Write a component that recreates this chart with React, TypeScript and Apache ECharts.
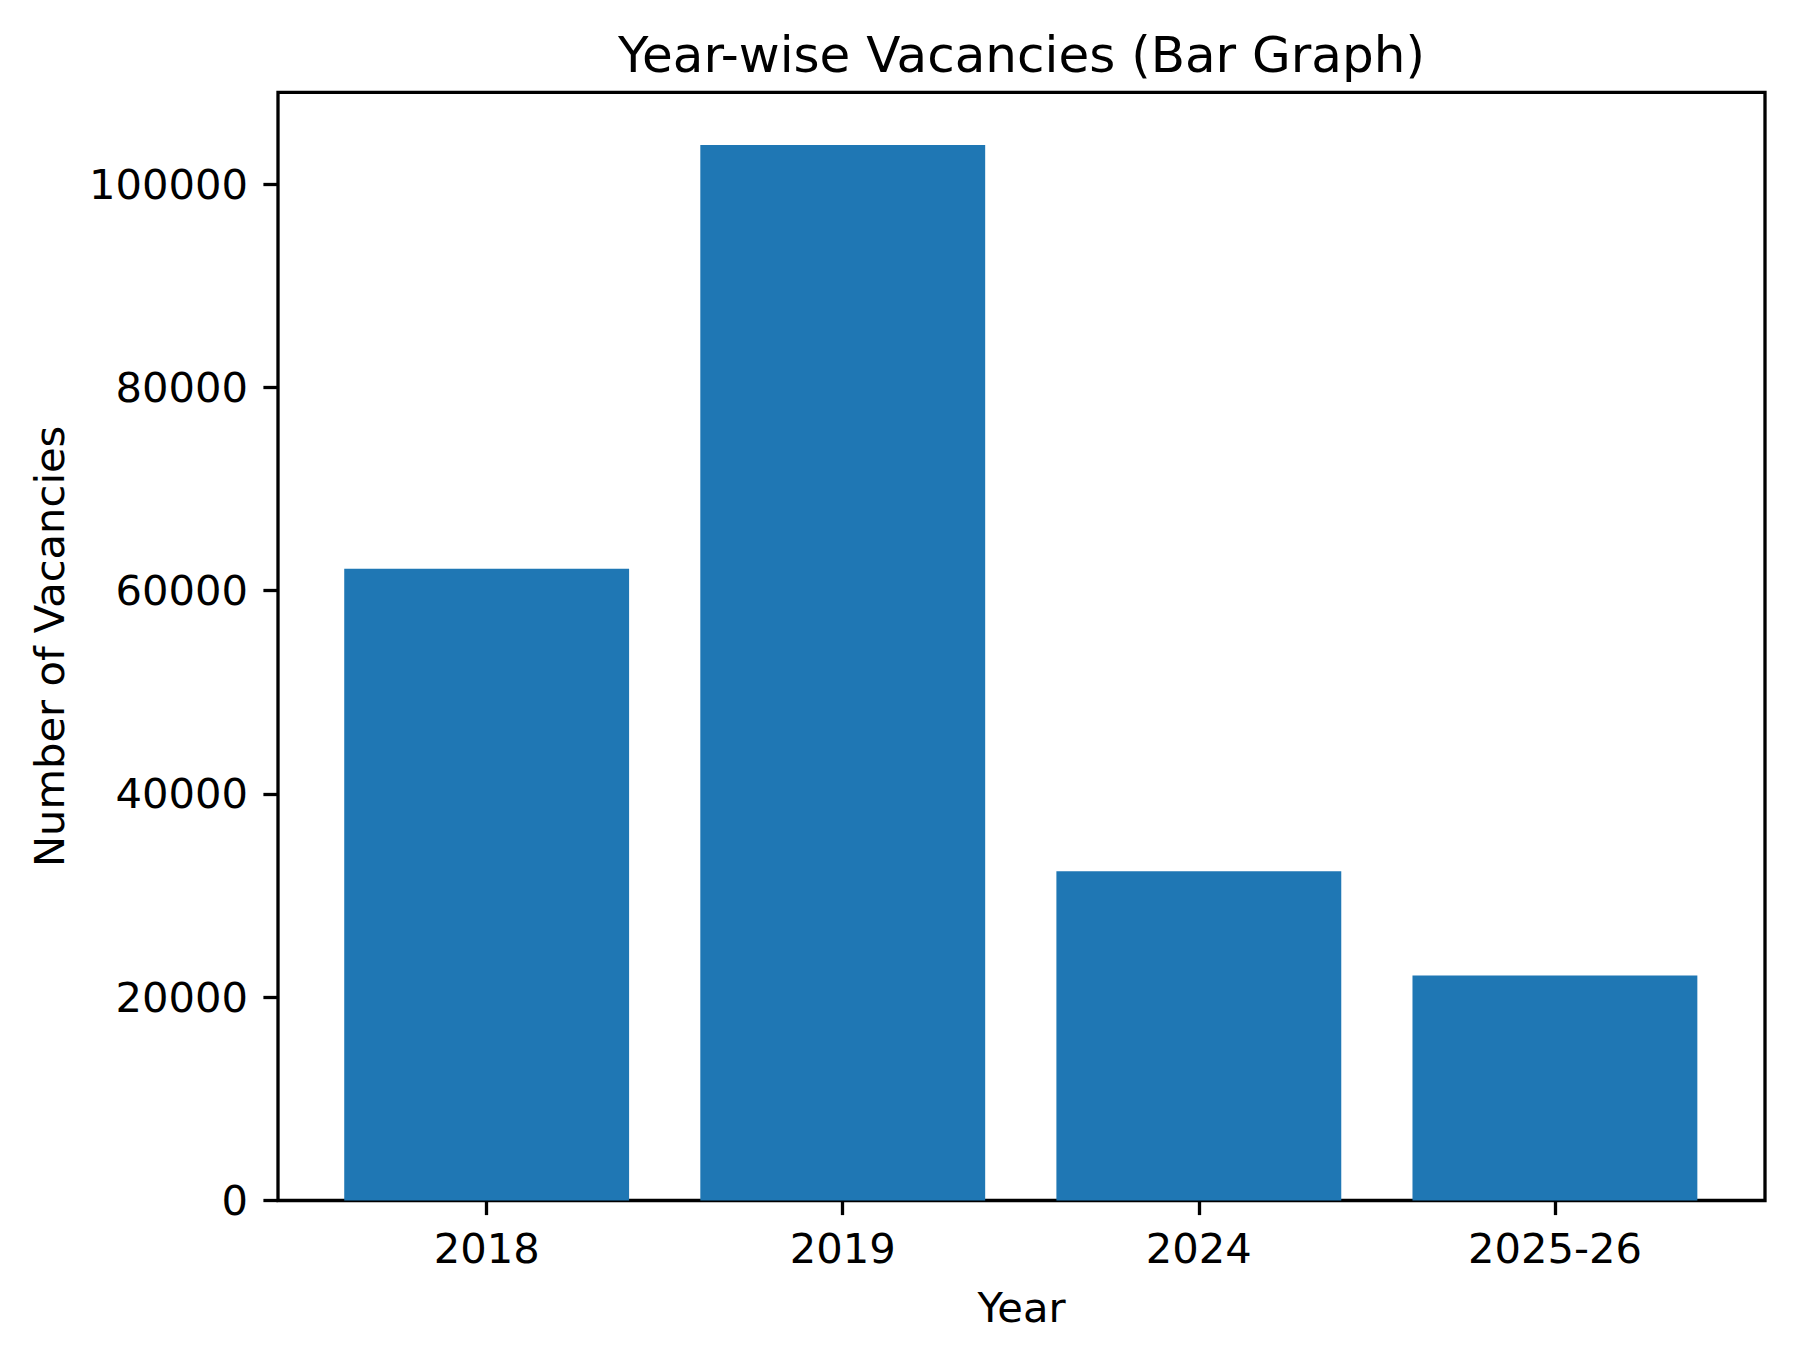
import * as echarts from 'echarts';
import { useEffect, useRef } from 'react';

// 数据
const years = ['2018', '2019', '2024', '2025-26'];
const vacancies = [62150, 103850, 32400, 22150];
const yTicks = [0, 20000, 40000, 60000, 80000, 100000];
const xTicks = [0, 1, 2, 3];

const FONT = 'DejaVu Sans';
const W = 1794;
const H = 1361;
// 坐标轴区域（像素）
const AX_LEFT = 278;
const AX_RIGHT = 1765;
const AX_TOP = 92.3;
const AX_BOTTOM = 1200.5;
const LW = 3.3;

export default function App() {
  const chartRef = useRef<HTMLDivElement>(null);

  useEffect(() => {
    document.body.style.margin = '0';
    if (!chartRef.current) return;
    const chart = echarts.init(chartRef.current, undefined, { renderer: 'svg' });

    const xMin = -0.586;
    const xMax = years.length - 1 + 0.59;
    const gridWidth = AX_RIGHT - AX_LEFT;
    const barWidth = (0.8 * gridWidth) / (xMax - xMin);
    const yMax = Math.max(...vacancies) * 1.05;

    chart.setOption({
      animation: false,
      backgroundColor: '#fff',
      title: {
        text: 'Year-wise Vacancies (Bar Graph)',
        left: (AX_LEFT + AX_RIGHT) / 2,
        textAlign: 'center',
        top: 30,
        padding: 0,
        textStyle: { fontFamily: FONT, fontSize: 50, fontWeight: 'normal', color: '#000', lineHeight: 50 },
      },
      grid: {
        left: AX_LEFT,
        right: W - AX_RIGHT,
        top: AX_TOP,
        bottom: H - AX_BOTTOM,
        show: true,
        borderColor: '#000',
        borderWidth: LW,
        backgroundColor: 'transparent',
        containLabel: false,
        outerBoundsMode: 'none',
      },
      xAxis: {
        type: 'value',
        min: xMin,
        max: xMax,
        name: 'Year',
        nameLocation: 'middle',
        nameGap: 86,
        nameTextStyle: { fontFamily: FONT, fontSize: 41.67, color: '#000', lineHeight: 42 },
        axisLine: { show: false, onZero: false },
        splitLine: { show: false },
        axisTick: { show: true, length: 14.6, customValues: xTicks, lineStyle: { color: '#000', width: LW } },
        axisLabel: {
          customValues: xTicks,
          margin: 27,
          fontFamily: FONT,
          fontSize: 41.67,
          lineHeight: 42,
          color: '#000',
          formatter: (v: number) => years[Math.round(v)] ?? '',
        },
      },
      yAxis: {
        type: 'value',
        min: 0,
        max: yMax,
        name: 'Number of Vacancies',
        nameLocation: 'middle',
        nameGap: 208,
        nameTextStyle: { fontFamily: FONT, fontSize: 41.67, color: '#000', lineHeight: 42 },
        axisLine: { show: false, onZero: false },
        splitLine: { show: false },
        axisTick: { show: true, length: 14.6, customValues: yTicks, lineStyle: { color: '#000', width: LW } },
        axisLabel: {
          customValues: yTicks,
          margin: 30,
          fontFamily: FONT,
          fontSize: 41.67,
          lineHeight: 42,
          color: '#000',
          formatter: (v: number) => String(v),
        },
      },
      series: [
        {
          type: 'bar',
          data: years.map((_, i) => [i, vacancies[i]]),
          barWidth,
          itemStyle: { color: '#1f77b4' },
          silent: true,
        },
      ],
    });

    return () => chart.dispose();
  }, []);

  return <div ref={chartRef} style={{ width: W, height: H }} />;
}
